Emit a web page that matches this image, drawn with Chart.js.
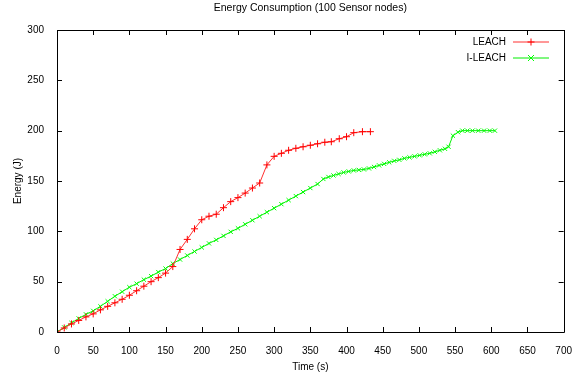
<!DOCTYPE html>
<html>
<head>
<meta charset="utf-8">
<script src="https://cdn.jsdelivr.net/npm/chart.js@4/dist/chart.umd.min.js"></script>
<style>
  html, body { margin: 0; padding: 0; background: #fff; }
  #wrap { width: 585px; height: 377px; }
</style>
</head>
<body>
<div id="wrap"><canvas id="chart" width="585" height="377"></canvas></div>
<script>
// valores
const leachTime = [0, 10, 20, 30, 40, 50, 60, 70, 80, 90, 100, 110, 120, 130, 140, 150, 160, 170, 180, 190,
  200, 210, 220, 230, 240, 250, 260, 270, 280, 290, 300, 310, 320, 330, 340, 350, 360, 370, 379, 390,
  400, 410, 422, 433];
const leachEnergy = [0, 4, 8, 11.5, 15, 18, 22, 25.5, 29, 32.5, 36.5, 41, 45.5, 50, 54, 58.5, 65, 82, 92, 102.5,
  111.5, 115, 117, 123.5, 129.5, 133.5, 138, 143, 148, 166, 174.5, 177.5, 180.5, 182.5, 184, 185.5, 187, 188.5, 189, 192,
  194, 198, 199, 199];

const ileachTime = [0, 10, 20, 30, 40, 50, 60, 70, 80, 90, 100, 110, 120, 130, 140, 150, 160, 170, 180, 190,
  200, 210, 220, 230, 240, 250, 260, 270, 280, 290, 300, 310, 320, 330, 340, 350, 360, 368, 375, 382,
  389, 396, 403, 410, 417, 424, 431, 438, 445, 452, 459, 466, 473, 480, 487, 494, 501, 508, 515, 522,
  529, 536, 541, 547, 554, 560, 567, 574, 582, 590, 598, 605];
const ileachEnergy = [0, 4.5, 9, 13.5, 17.5, 21, 25.5, 30.5, 35.5, 40, 44.5, 48, 52, 55.5, 59.5, 63, 68, 72, 76, 80,
  84, 88, 91.5, 95.5, 99.5, 103, 107, 111, 115, 119, 123, 127, 131, 135, 139, 143, 147, 152, 154, 155.5,
  157, 158.5, 159.5, 160.5, 161, 161.5, 162.5, 164, 165.5, 167, 168.5, 170, 171, 172.5, 173.5, 174.5, 175.5, 176.5, 177.5, 179,
  180.5, 182, 184, 195, 198.5, 200, 200, 200, 200, 200, 200, 200];

const xTicks = [0, 50, 100, 150, 200, 250, 300, 350, 400, 450, 500, 550, 600, 650, 700];
const yTicks = [0, 50, 100, 150, 200, 250, 300];

const fontFamily = '"Liberation Sans", Arial, sans-serif';

function toPoints(xs, ys) {
  return xs.map((x, i) => ({ x: x, y: ys[i] }));
}

// moldura e marcas internas estilo gnuplot
const frameTicks = {
  id: 'frameTicks',
  afterDatasetsDraw(chart) {
    const { ctx, chartArea: a, scales } = chart;
    const len = 5;
    ctx.save();
    ctx.strokeStyle = '#000';
    ctx.lineWidth = 1;
    ctx.beginPath();
    ctx.rect(Math.round(a.left) + 0.5, Math.round(a.top) + 0.5,
      Math.round(a.right - a.left), Math.round(a.bottom - a.top));
    xTicks.forEach(v => {
      const px = Math.round(scales.x.getPixelForValue(v)) + 0.5;
      ctx.moveTo(px, a.bottom); ctx.lineTo(px, a.bottom - len);
      ctx.moveTo(px, a.top); ctx.lineTo(px, a.top + len);
    });
    yTicks.forEach(v => {
      const py = Math.round(scales.y.getPixelForValue(v)) + 0.5;
      ctx.moveTo(a.left, py); ctx.lineTo(a.left + len, py);
      ctx.moveTo(a.right, py); ctx.lineTo(a.right - len, py);
    });
    ctx.stroke();
    ctx.restore();
  }
};

// legenda no canto superior direito
const keyBox = {
  id: 'keyBox',
  afterDatasetsDraw(chart) {
    const { ctx } = chart;
    const rows = [42, 58];
    ctx.save();
    ctx.font = '10px ' + fontFamily;
    ctx.textAlign = 'right';
    ctx.textBaseline = 'middle';
    chart.data.datasets.forEach((ds, i) => {
      const y = rows[i];
      ctx.fillStyle = '#000';
      ctx.fillText(ds.label, 506, y);
      ctx.strokeStyle = ds.borderColor;
      ctx.lineWidth = 1;
      ctx.beginPath();
      ctx.moveTo(513, y); ctx.lineTo(549, y);
      ctx.stroke();
      const r = ds.pointRadius;
      ctx.strokeStyle = ds.pointBorderColor;
      ctx.beginPath();
      if (ds.pointStyle === 'cross') {
        ctx.moveTo(531 - r, y); ctx.lineTo(531 + r, y);
        ctx.moveTo(531, y - r); ctx.lineTo(531, y + r);
      } else {
        ctx.moveTo(531 - r, y - r); ctx.lineTo(531 + r, y + r);
        ctx.moveTo(531 - r, y + r); ctx.lineTo(531 + r, y - r);
      }
      ctx.stroke();
    });
    ctx.restore();
  }
};

new Chart(document.getElementById('chart'), {
  type: 'line',
  data: {
    datasets: [{
      label: 'LEACH',
      data: toPoints(leachTime, leachEnergy),
      borderColor: '#ff3030',
      borderWidth: 1,
      pointStyle: 'cross',
      pointRadius: 3.5,
      pointBorderColor: '#ff0000',
      pointBorderWidth: 1,
      fill: false,
      tension: 0,
    }, {
      label: 'I-LEACH',
      data: toPoints(ileachTime, ileachEnergy),
      borderColor: '#00ee00',
      borderWidth: 1,
      pointStyle: 'crossRot',
      pointRadius: 3,
      pointBorderColor: '#00ff00',
      pointBorderWidth: 1,
      fill: false,
      tension: 0,
    }],
  },
  options: {
    responsive: false,
    animation: false,
    layout: { padding: { top: 0, right: 16, bottom: 0, left: 0 } },
    plugins: {
      legend: { display: false },
      tooltip: { enabled: false },
      title: {
        display: true,
        fullSize: false,
        text: 'Energy Consumption (100 Sensor nodes)',
        color: '#000',
        font: { family: fontFamily, size: 10.5, weight: 'normal' },
        padding: { top: 2, bottom: 15.4 },
      },
    },
    scales: {
      x: {
        type: 'linear',
        min: 0,
        max: 700,
        afterBuildTicks: s => { s.ticks = xTicks.map(v => ({ value: v })); },
        afterFit: s => { s.height = 45; },
        grid: { display: false, drawTicks: false },
        border: { display: false },
        ticks: { color: '#000', padding: 13, maxRotation: 0, font: { family: fontFamily, size: 10 } },
        title: {
          display: true,
          text: 'Time (s)',
          color: '#000',
          font: { family: fontFamily, size: 10 },
          padding: { top: 0, bottom: 4 },
        },
      },
      y: {
        min: 0,
        max: 300,
        afterBuildTicks: s => { s.ticks = yTicks.map(v => ({ value: v })); },
        afterFit: s => { s.width = 57; },
        grid: { display: false, drawTicks: false },
        border: { display: false },
        ticks: { color: '#000', padding: 13, font: { family: fontFamily, size: 10 } },
        title: {
          display: true,
          text: 'Energy (J)',
          color: '#000',
          font: { family: fontFamily, size: 10 },
          padding: { top: 12, bottom: 0 },
        },
      },
    },
  },
  plugins: [frameTicks, keyBox],
});
</script>
</body>
</html>
